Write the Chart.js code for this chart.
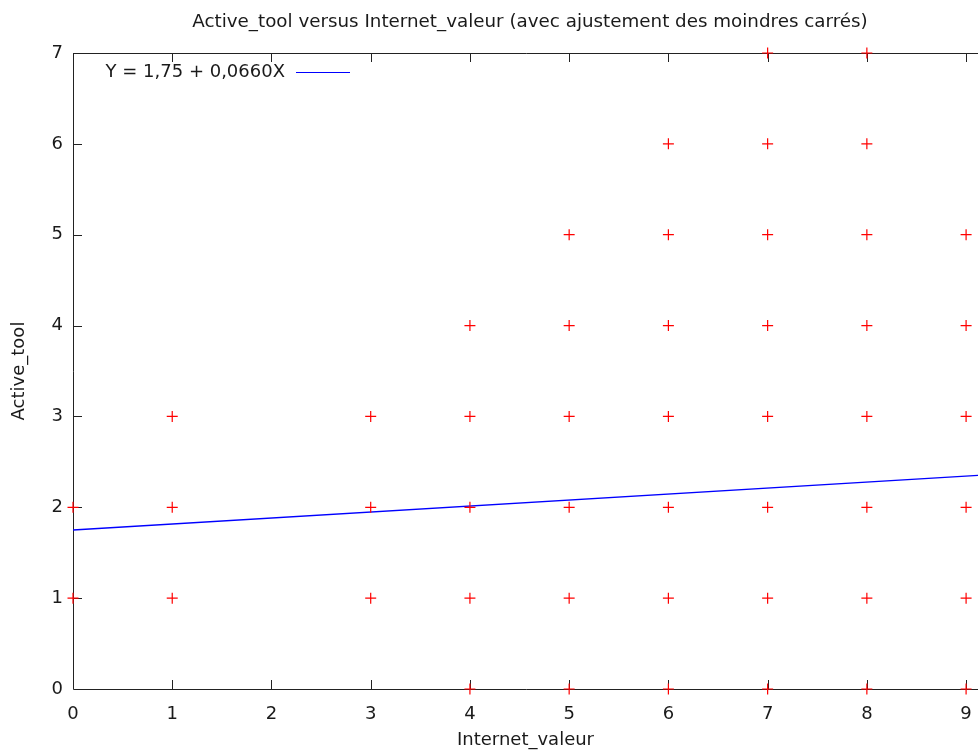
<!DOCTYPE html>
<html>
<head>
<meta charset="utf-8">
<script src="https://cdn.jsdelivr.net/npm/chart.js@4/dist/chart.umd.min.js"></script>
<style>
  html, body { margin: 0; padding: 0; background: #fff; overflow: hidden; }
</style>
</head>
<body>
<canvas id="chart" width="978" height="751"></canvas>
<script>
// observations (Internet_valeur, Active_tool)
const internetValeur = [0, 0, 1, 1, 1, 3, 3, 3, 4, 4, 4, 4, 4, 5, 5, 5, 5, 5, 5, 6, 6, 6, 6, 6, 6, 6, 7, 7, 7, 7, 7, 7, 7, 7, 8, 8, 8, 8, 8, 8, 8, 8, 9, 9, 9, 9, 9, 9];
const activeTool     = [1, 2, 1, 2, 3, 1, 2, 3, 0, 1, 2, 3, 4, 0, 1, 2, 3, 4, 5, 0, 1, 2, 3, 4, 5, 6, 0, 1, 2, 3, 4, 5, 6, 7, 0, 1, 2, 3, 4, 5, 6, 7, 0, 1, 2, 3, 4, 5];

// least squares fit from the legend
const intercept = 1.75;
const slope = 0.066;
const fitLabel = "Y = 1,75 + 0,0660X";

const xTicks = [0, 1, 2, 3, 4, 5, 6, 7, 8, 9];
const yTicks = [0, 1, 2, 3, 4, 5, 6, 7];

const titleText = "Active_tool versus Internet_valeur (avec ajustement des moindres carrés)";
const FONT = "'DejaVu Sans', Verdana, sans-serif";
const FS = 18;
const TEXT = "#1a1a1a";

const points = internetValeur.map((x, i) => ({ x: x, y: activeTool[i] }));
const fitLine = [0, 10].map(x => ({ x: x, y: intercept + slope * x }));

// frame, inner ticks, title and key, gnuplot style
const gnuplotDecor = {
    id: "gnuplotDecor",
    beforeDatasetsDraw(chart) {
        const { ctx, chartArea: a, scales } = chart;
        ctx.save();
        ctx.strokeStyle = "#222";
        ctx.lineWidth = 1;
        ctx.beginPath();
        // frame (left, top, bottom)
        ctx.moveTo(a.left + 0.5, a.top + 0.5);
        ctx.lineTo(a.right + 2, a.top + 0.5);
        ctx.moveTo(a.left + 0.5, a.top);
        ctx.lineTo(a.left + 0.5, a.bottom + 0.5);
        ctx.lineTo(a.right + 2, a.bottom + 0.5);
        // inward ticks
        xTicks.slice(1).forEach(v => {
            const px = Math.round(scales.x.getPixelForValue(v)) + 0.5;
            ctx.moveTo(px, a.bottom);
            ctx.lineTo(px, a.bottom - 9);
            ctx.moveTo(px, a.top);
            ctx.lineTo(px, a.top + 9);
        });
        yTicks.slice(1, -1).forEach(v => {
            const py = Math.round(scales.y.getPixelForValue(v)) + 0.5;
            ctx.moveTo(a.left, py);
            ctx.lineTo(a.left + 9, py);
        });
        ctx.stroke();

        // title
        ctx.fillStyle = TEXT;
        ctx.font = "18.3px " + FONT;
        ctx.textAlign = "center";
        ctx.textBaseline = "middle";
        ctx.fillText(titleText, 530, 22);

        // key
        ctx.font = FS + "px " + FONT;
        ctx.textAlign = "right";
        ctx.fillText(fitLabel, 285, 72);
        ctx.strokeStyle = "#0000ff";
        ctx.beginPath();
        ctx.moveTo(296, 72.5);
        ctx.lineTo(350, 72.5);
        ctx.stroke();
        ctx.restore();
    }
};

new Chart(document.getElementById("chart"), {
    type: "scatter",
    data: {
        datasets: [
            {
                label: "Active_tool",
                data: points,
                pointStyle: "cross",
                pointRadius: 5.5,
                pointHoverRadius: 5.5,
                borderColor: "#ff0000",
                backgroundColor: "#ff0000",
                borderWidth: 1.2,
                clip: false,
            },
            {
                type: "line",
                label: fitLabel,
                data: fitLine,
                borderColor: "#0000ff",
                borderWidth: 1.3,
                pointRadius: 0,
                fill: false,
            },
        ],
    },
    options: {
        responsive: false,
        animation: false,
        layout: { autoPadding: false, padding: { top: 53, right: 0, left: 0, bottom: 0 } },
        plugins: {
            legend: { display: false },
            title: { display: false },
            tooltip: { enabled: false },
        },
        scales: {
            x: {
                type: "linear",
                min: 0,
                max: 9.12,
                grid: { display: false, drawTicks: false },
                border: { display: false },
                ticks: {
                    stepSize: 1,
                    includeBounds: false,
                    padding: 15,
                    color: TEXT,
                    font: { family: FONT, size: FS },
                    maxRotation: 0,
                },
                title: {
                    display: true,
                    text: "Internet_valeur",
                    color: TEXT,
                    font: { family: FONT, size: FS },
                    padding: { top: 4, bottom: 0 },
                },
                afterFit(scale) {
                    scale.height = 62;
                    scale.paddingRight = 0;
                    scale.paddingLeft = 0;
                },
            },
            y: {
                type: "linear",
                min: 0,
                max: 7,
                grid: { display: false, drawTicks: false },
                border: { display: false },
                ticks: {
                    stepSize: 1,
                    padding: 10,
                    color: TEXT,
                    font: { family: FONT, size: FS },
                },
                title: {
                    display: true,
                    text: "Active_tool",
                    color: TEXT,
                    font: { family: FONT, size: FS },
                    padding: { top: 9, bottom: 0 },
                },
                afterFit(scale) {
                    scale.width = 73;
                    scale.paddingTop = 0;
                    scale.paddingBottom = 0;
                },
            },
        },
    },
    plugins: [gnuplotDecor],
});
</script>
</body>
</html>
